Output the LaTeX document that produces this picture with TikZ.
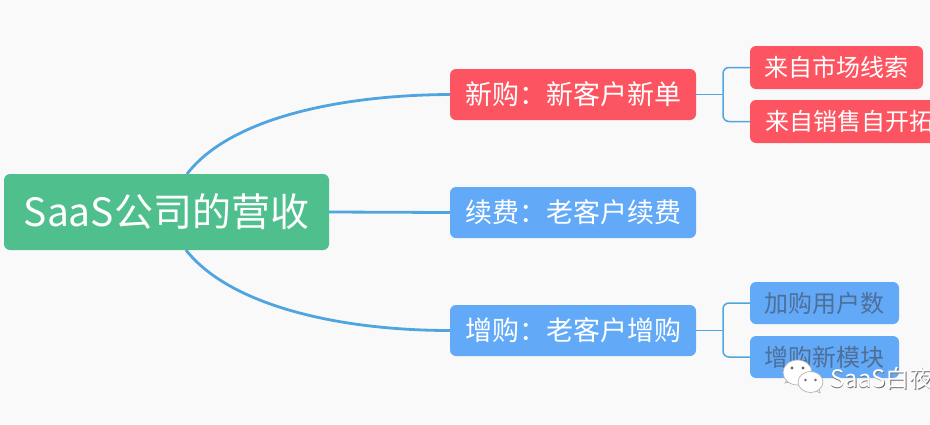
\documentclass[tikz,border=0pt]{standalone}
\usepackage{fontspec}
\setmainfont{Noto Sans CJK SC}
\begin{document}
\begin{tikzpicture}[x=1pt,y=-1pt,
  base/.style={rounded corners=6pt,inner sep=0pt,text=white,align=center},
  rootbox/.style={base,fill=rootgreen,minimum width=325pt,minimum height=76pt,font=\fontsize{39}{43}\selectfont},
  midred/.style={base,fill=nodered,minimum width=246pt,minimum height=51pt,font=\fontsize{27}{30}\selectfont},
  midblue/.style={base,fill=nodeblue,minimum width=246pt,minimum height=51pt,font=\fontsize{27}{30}\selectfont},
  subred/.style={base,fill=nodered,minimum height=43pt,font=\fontsize{24}{27}\selectfont},
  subblue/.style={base,fill=nodeblue,minimum width=149pt,minimum height=42pt,text=subtext,font=\fontsize{24}{27}\selectfont},
  trunk/.style={draw=linkblue,line width=2.8pt},
  twig/.style={draw=linkblue,line width=1.5pt,rounded corners=6pt},
  bubble/.style={fill=white,draw=black!30,line width=.7pt},
  eye/.style={fill=black!60,draw=none}]
\definecolor{pagebg}{HTML}{F9F9FA}
\definecolor{rootgreen}{HTML}{4FC08D}
\definecolor{nodered}{HTML}{FC5561}
\definecolor{nodeblue}{HTML}{62A9F8}
\definecolor{linkblue}{HTML}{4FA5DF}
\definecolor{subtext}{HTML}{4E6F97}
\clip (0,0) rectangle (930,424);
\fill[pagebg] (0,0) rectangle (930,424);
\node[rootbox] (root) at (166.5,212) {SaaS公司的营收};
\node[midred] (new) at (573,94.5) {新购：新客户新单};
\node[midblue] (renew) at (573,212.5) {续费：老客户续费};
\node[midblue] (more) at (573,330.5) {增购：老客户增购};
\node[subred,minimum width=173pt] (s1) at (836.5,67.5) {来自市场线索};
\node[subred,minimum width=198pt] (s2) at (849,121.5) {来自销售自开拓};
\node[subblue] (s3) at (824.5,303) {加购用户数};
\node[subblue] (s4) at (824.5,357) {增购新模块};
\coordinate (rtop) at (187,174);
\coordinate (rbot) at (186,250);
\coordinate (fork1) at (723,94.5);
\coordinate (fork2) at (723,330.5);
\draw[trunk] (rtop) .. controls (230,118) and (340,95) .. (new.west);
\draw[trunk] (root.east) -- (renew.west);
\draw[trunk] (rbot) .. controls (230,306) and (340,330.5) .. (more.west);
\draw[twig] (new.east) -- (fork1);
\draw[twig] (more.east) -- (fork2);
\draw[twig] (fork1) |- (s1.west);
\draw[twig] (fork1) |- (s2.west);
\draw[twig] (fork2) |- (s3.west);
\draw[twig] (fork2) |- (s4.west);
% watermark
\path[bubble] (785,383) -- (789,376) -- (794,381) -- cycle;
\path[bubble] (797.5,372.5) ellipse [x radius=14.5pt,y radius=12.5pt];
\fill[eye] (792,368) circle (1.7pt);
\fill[eye] (803,368) circle (1.7pt);
\path[bubble] (820,393) -- (811,388) -- (819,386) -- cycle;
\path[bubble] (810.5,382) ellipse [x radius=12.5pt,y radius=10.5pt];
\fill[eye] (805.5,380) circle (1.4pt);
\fill[eye] (815.5,380) circle (1.4pt);
\node[anchor=west,inner sep=0pt,text=black!55,font=\fontsize{24}{28}\selectfont] (wms) at (830.7,379) {SaaS白夜};
\node[anchor=west,inner sep=0pt,text=white,font=\fontsize{24}{28}\selectfont] (wm) at (830,378) {SaaS白夜};
\end{tikzpicture}
\end{document}
